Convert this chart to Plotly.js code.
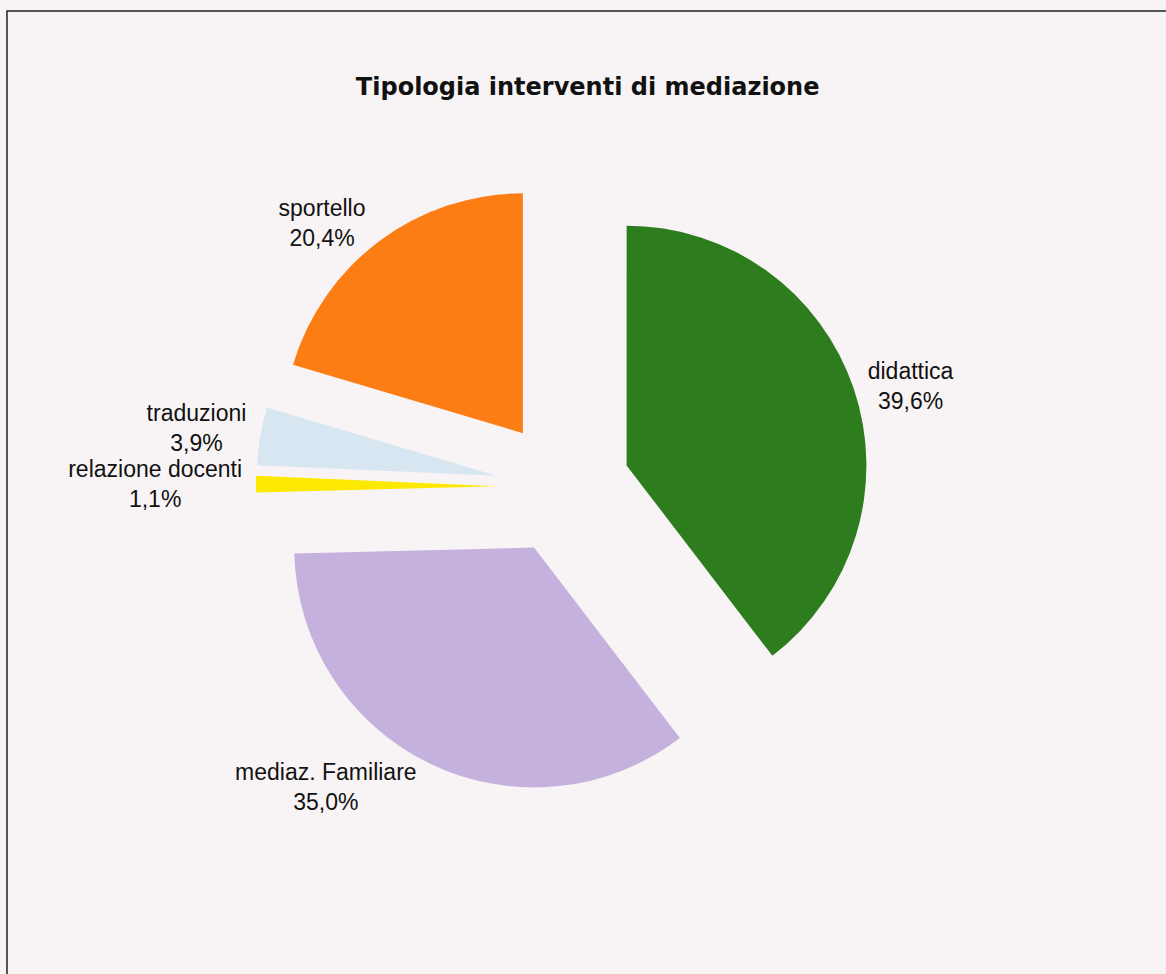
<!DOCTYPE html>
<html>
<head>
<meta charset="utf-8">
<script src="https://cdn.plot.ly/plotly-3.0.1.min.js"></script>
<style>html,body{margin:0;padding:0;background:#f8f4f5;}#chart{width:1166px;height:974px;}path.textline{stroke-opacity:0!important;}</style>
</head>
<body>
<div id="chart"></div>
<script>
var categories = ["didattica", "mediaz. Familiare", "relazione docenti", "traduzioni", "sportello"];
var shares = [39.6, 35.0, 1.1, 3.9, 20.4];
var sliceColors = ["#2d7d1f", "#c4b1dd", "#fde800", "#d8e6f1", "#fb7d14"];
var chartTitle = "Tipologia interventi di mediazione";

var trace = {
  type: "pie",
  labels: categories,
  values: shares,
  sort: false,
  direction: "clockwise",
  rotation: 0,
  pull: 0.28,
  marker: {colors: sliceColors, line: {width: 0}},
  textposition: "outside",
  texttemplate: "%{label}<br>%{percent:.1%}",
  textfont: {family: "Liberation Sans, Arial, sans-serif", size: 23, color: "#111111"},
  hoverinfo: "label+percent",
  showlegend: false,
  domain: {x: [0.2196, 0.7461], y: [0.1848, 0.8152]}
};

var layout = {
  width: 1166,
  height: 974,
  margin: {l: 0, r: 0, t: 0, b: 0},
  paper_bgcolor: "#f8f4f5",
  plot_bgcolor: "#f8f4f5",
  separators: ",.",
  title: {
    text: "<b>" + chartTitle + "</b>",
    font: {family: "DejaVu Sans, sans-serif", size: 24, color: "#111111"},
    x: 0.504, xanchor: "center",
    y: 0.911, yanchor: "middle", yref: "container"
  },
  shapes: [{
    type: "rect", xref: "paper", yref: "paper",
    x0: 0.006, x1: 1.02, y0: -0.02, y1: 0.9887,
    line: {color: "#222222", width: 1.5}, fillcolor: "rgba(0,0,0,0)"
  }]
};

Plotly.newPlot("chart", [trace], layout, {displayModeBar: false, staticPlot: true});
</script>
</body>
</html>
